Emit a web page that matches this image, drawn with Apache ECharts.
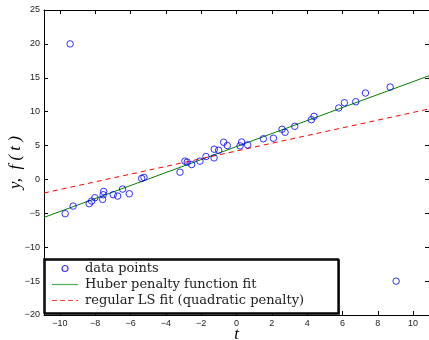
<!DOCTYPE html>
<html>
<head>
<meta charset="utf-8">
<script src="https://cdn.jsdelivr.net/npm/echarts@6/dist/echarts.min.js"></script>
<style>
  html, body { margin: 0; padding: 0; background: #fff; }
  #main { width: 429px; height: 340px; }
</style>
</head>
<body>
<div id="main"></div>
<script>
// data points (t, y), incl. the two outliers
var pointsT = [-9.42, -9.70, -9.25, -8.34, -8.20, -8.02, -7.58, -7.55, -7.52, -6.98,
               -6.73, -6.45, -6.07, -5.37, -5.24, -3.20, -2.92, -2.79, -2.54, -2.07,
               -1.73, -1.27, -1.26, -1.01, -0.73, -0.52, 0.20, 0.29, 0.63, 1.52,
               2.09, 2.58, 2.75, 3.30, 4.24, 4.39, 5.79, 6.11, 6.75, 7.30,
               8.70, 9.04];
var pointsY = [20.0, -5.05, -3.93, -3.58, -3.19, -2.70, -2.94, -2.26, -1.77, -2.25,
               -2.45, -1.42, -2.11, 0.15, 0.30, 1.07, 2.70, 2.55, 2.20, 2.70,
               3.38, 3.18, 4.46, 4.31, 5.49, 5.00, 4.95, 5.52, 5.10, 6.00,
               6.08, 7.40, 6.96, 7.84, 8.82, 9.31, 10.54, 11.32, 11.47, 12.75,
               13.63, -15.0];

// fitted lines, endpoints at the x limits
var fitT = [-10.9, 10.9];
var huberY = [-5.6, 15.3];
var lsY = [-2.0, 10.4];

var xTicks = [-10, -8, -6, -4, -2, 0, 2, 4, 6, 8, 10];

var names = ['data points', 'Huber penalty function fit', 'regular LS fit (quadratic penalty)'];

function zip(a, b) {
    var out = [];
    for (var i = 0; i < a.length; i++) out.push([a[i], b[i]]);
    return out;
}
function minus(v) { return String(v).replace('-', '\u2212'); }

var labelStyle = { color: '#222', fontSize: 9, fontFamily: 'Liberation Sans, Arial, sans-serif' };
var nameStyle = { fontFamily: 'Liberation Serif, serif', fontStyle: 'italic', fontSize: 17, color: '#000' };
var axLine = { onZero: false, lineStyle: { color: '#000', width: 1 } };

// legend icons: short solid / dashed strokes
var solidIcon = 'path://M0,0h26v1.2h-26z';
var dashIcon = 'path://M0,0h5v1.2h-5z M8,0h5v1.2h-5z M16,0h5v1.2h-5z M24,0h2v1.2h-2z';

var myChart = echarts.init(document.getElementById('main'), null, { renderer: 'canvas' });
var option = {
    animation: false,
    backgroundColor: '#fff',
    grid: { left: 44, right: 0, top: 10, bottom: 25, containLabel: false, outerBoundsMode: 'none' },
    legend: {
        orient: 'vertical',
        left: 44,
        top: 259,
        padding: [3, 34, 6, 8],
        itemGap: 3,
        itemWidth: 26,
        itemHeight: 6,
        borderColor: '#000',
        borderWidth: 1.5,
        backgroundColor: '#fff',
        shadowColor: '#000',
        shadowBlur: 0,
        shadowOffsetX: 1,
        shadowOffsetY: 1,
        textStyle: { fontFamily: 'DejaVu Serif, serif', fontSize: 13, color: '#222', padding: [0, 0, 0, 2] },
        data: [
            { name: names[0], icon: 'circle', itemStyle: { color: '#fff', borderColor: '#0000ff', borderWidth: 1.2 } },
            { name: names[1], icon: solidIcon, itemStyle: { color: '#4caf50', borderWidth: 0 } },
            { name: names[2], icon: dashIcon, itemStyle: { color: '#ff4040', borderWidth: 0 } }
        ]
    },
    xAxis: [{
        type: 'value',
        min: fitT[0], max: fitT[1],
        name: 't', nameLocation: 'middle', nameGap: 11, nameMoveOverlap: false,
        nameTextStyle: nameStyle,
        axisLine: axLine,
        axisTick: { inside: true, length: 4, customValues: xTicks, lineStyle: { color: '#000' } },
        axisLabel: Object.assign({ customValues: xTicks, margin: 4, formatter: minus }, labelStyle),
        splitLine: { show: false }
    }, {
        type: 'value', position: 'top',
        min: fitT[0], max: fitT[1],
        axisLine: axLine,
        axisTick: { inside: true, length: 4, customValues: xTicks, lineStyle: { color: '#000' } },
        axisLabel: { show: false },
        splitLine: { show: false }
    }],
    yAxis: [{
        type: 'value',
        min: -20, max: 25, interval: 5,
        name: 'y,  f ( t )', nameLocation: 'middle', nameGap: 20, nameMoveOverlap: false,
        nameTextStyle: nameStyle,
        axisLine: axLine,
        axisTick: { inside: true, length: 4, lineStyle: { color: '#000' } },
        axisLabel: Object.assign({ margin: 4, formatter: minus }, labelStyle),
        splitLine: { show: false }
    }, {
        type: 'value', position: 'right',
        min: -20, max: 25, interval: 5,
        axisLine: axLine,
        axisTick: { inside: true, length: 4, lineStyle: { color: '#000' } },
        axisLabel: { show: false },
        splitLine: { show: false }
    }],
    series: [
        {
            name: names[0],
            type: 'scatter',
            symbol: 'circle',
            symbolSize: 6.5,
            itemStyle: { color: 'rgba(0,0,0,0)', borderColor: '#0000ff', borderWidth: 1 },
            data: zip(pointsT, pointsY),
            z: 3
        },
        {
            name: names[1],
            type: 'line',
            showSymbol: false,
            symbol: 'none',
            lineStyle: { color: '#008000', width: 1 },
            itemStyle: { color: '#008000' },
            data: zip(fitT, huberY),
            z: 2
        },
        {
            name: names[2],
            type: 'line',
            showSymbol: false,
            symbol: 'none',
            lineStyle: { color: '#ff0000', width: 1, type: [5, 4] },
            itemStyle: { color: '#ff0000' },
            data: zip(fitT, lsY),
            z: 2
        }
    ]
};
myChart.setOption(option);
</script>
</body>
</html>
